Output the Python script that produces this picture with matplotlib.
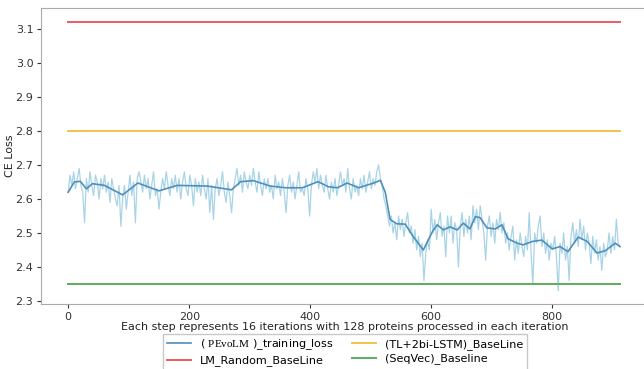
import numpy as np
import matplotlib
matplotlib.use("Agg")
import matplotlib.pyplot as plt

# ---------------------------------------------------------------------------
# data
# ---------------------------------------------------------------------------
STEP = 3   # raw loss sampled every 3 steps (0 .. 912)
raw_loss = [
    2.62, 2.67, 2.64, 2.68, 2.63, 2.66, 2.69, 2.64, 2.62, 2.53,
    2.66, 2.62, 2.68, 2.64, 2.61, 2.67, 2.65, 2.60, 2.66, 2.63,
    2.67, 2.62, 2.65, 2.59, 2.66, 2.63, 2.60, 2.58, 2.64, 2.52,
    2.60, 2.64, 2.57, 2.62, 2.67, 2.61, 2.65, 2.53, 2.66, 2.68,
    2.65, 2.62, 2.67, 2.63, 2.66, 2.60, 2.64, 2.68, 2.61, 2.63,
    2.57, 2.62, 2.66, 2.63, 2.68, 2.64, 2.61, 2.66, 2.63, 2.67,
    2.62, 2.66, 2.60, 2.65, 2.68, 2.63, 2.61, 2.67, 2.64, 2.58,
    2.66, 2.62, 2.65, 2.61, 2.67, 2.63, 2.60, 2.66, 2.56, 2.64,
    2.54, 2.63, 2.66, 2.61, 2.64, 2.68, 2.62, 2.59, 2.65, 2.61,
    2.56, 2.63, 2.66, 2.69, 2.64, 2.67, 2.62, 2.68, 2.65, 2.63,
    2.67, 2.64, 2.69, 2.65, 2.62, 2.68, 2.64, 2.61, 2.66, 2.63,
    2.66, 2.62, 2.64, 2.60, 2.67, 2.63, 2.65, 2.61, 2.66, 2.62,
    2.56, 2.64, 2.67, 2.62, 2.65, 2.60, 2.64, 2.68, 2.62, 2.63,
    2.61, 2.66, 2.63, 2.55, 2.64, 2.68, 2.65, 2.69, 2.63, 2.67,
    2.64, 2.62, 2.67, 2.63, 2.60, 2.65, 2.62, 2.66, 2.61, 2.64,
    2.68, 2.64, 2.66, 2.62, 2.69, 2.63, 2.60, 2.66, 2.62, 2.64,
    2.61, 2.66, 2.63, 2.67, 2.62, 2.65, 2.68, 2.63, 2.66, 2.64,
    2.68, 2.70, 2.66, 2.64, 2.60, 2.58, 2.55, 2.52, 2.55, 2.50,
    2.53, 2.48, 2.55, 2.51, 2.54, 2.49, 2.53, 2.56, 2.50, 2.52,
    2.47, 2.51, 2.45, 2.49, 2.43, 2.47, 2.36, 2.44, 2.48, 2.45,
    2.57, 2.50, 2.54, 2.48, 2.53, 2.56, 2.49, 2.52, 2.43, 2.55,
    2.50, 2.55, 2.47, 2.53, 2.51, 2.40, 2.52, 2.56, 2.49, 2.54,
    2.50, 2.55, 2.48, 2.58, 2.53, 2.57, 2.51, 2.58, 2.54, 2.50,
    2.42, 2.52, 2.55, 2.49, 2.53, 2.47, 2.54, 2.51, 2.56, 2.50,
    2.53, 2.47, 2.50, 2.45, 2.49, 2.52, 2.42, 2.48, 2.44, 2.50,
    2.46, 2.43, 2.49, 2.45, 2.56, 2.44, 2.35, 2.50, 2.47, 2.52,
    2.55, 2.46, 2.50, 2.44, 2.48, 2.42, 2.47, 2.45, 2.49, 2.43,
    2.33, 2.47, 2.44, 2.50, 2.42, 2.46, 2.36, 2.49, 2.53, 2.47,
    2.51, 2.46, 2.54, 2.48, 2.52, 2.45, 2.50, 2.47, 2.41, 2.49,
    2.44, 2.48, 2.42, 2.46, 2.39, 2.47, 2.43, 2.45, 2.50, 2.44,
    2.49, 2.45, 2.54, 2.47, 2.46,
]

# smoothed loss (dark blue curve), read at its turning points
smooth_steps = [0, 10, 20, 30, 40, 60, 90, 115, 150, 180, 230, 270, 285, 306,
                334, 360, 387, 413, 430, 445, 461, 480, 505, 516, 524, 532,
                543, 557, 570, 587, 602, 610, 620, 631, 643, 653, 664, 673,
                681, 692, 706, 717, 727, 742, 752, 767, 783, 800, 813, 826,
                843, 858, 874, 888, 904, 912]
smooth_loss = [2.62, 2.65, 2.652, 2.63, 2.645, 2.64, 2.612, 2.647, 2.624, 2.64,
               2.638, 2.627, 2.651, 2.654, 2.638, 2.633, 2.633, 2.651, 2.636,
               2.633, 2.647, 2.633, 2.647, 2.655, 2.62, 2.54, 2.527, 2.526,
               2.49, 2.45, 2.504, 2.524, 2.509, 2.518, 2.509, 2.529, 2.512,
               2.548, 2.545, 2.515, 2.512, 2.524, 2.483, 2.47, 2.465, 2.475,
               2.479, 2.453, 2.46, 2.445, 2.488, 2.475, 2.441, 2.448, 2.47, 2.46]

LM_RANDOM = 3.12
TL_LSTM = 2.80
SEQVEC = 2.35
LAST_STEP = 912

plt.rcParams["mathtext.fontset"] = "custom"
plt.rcParams["mathtext.rm"] = "Liberation Serif"

fig = plt.figure(figsize=(6.44, 3.69), dpi=100)
ax = fig.add_axes([41 / 644, 65 / 369, 608 / 644, 296 / 369])

steps = np.arange(len(raw_loss)) * STEP
ax.plot(steps, raw_loss, color="#9fcfe4", lw=0.9, alpha=0.9)
ax.plot(smooth_steps, smooth_loss, color="#4f8fba", lw=1.2,
        label=r"( $\mathrm{PEvoLM}$ )_training_loss")
ax.plot([0, LAST_STEP], [LM_RANDOM] * 2, color="#ec5b5f", lw=1.4,
        label="LM_Random_BaseLine")
ax.plot([0, LAST_STEP], [TL_LSTM] * 2, color="#f4c14d", lw=1.4,
        label="(TL+2bi-LSTM)_BaseLine")
ax.plot([0, LAST_STEP], [SEQVEC] * 2, color="#5aad5a", lw=1.4,
        label="(SeqVec)_Baseline")

ax.set_xlim(-45, 960)
ax.set_ylim(2.291, 3.162)
ax.set_xticks([0, 200, 400, 600, 800])
ax.set_yticks([2.3, 2.4, 2.5, 2.6, 2.7, 2.8, 2.9, 3.0, 3.1])
ax.tick_params(labelsize=8, colors="#333333", length=3, pad=2.5)
for s in ax.spines.values():
    s.set_color("#aaaaaa")

ax.set_xlabel("Each step represents 16 iterations with 128 proteins processed in each iteration",
              fontsize=8, labelpad=0, color="#222222")
ax.set_ylabel("CE Loss", fontsize=8, color="#222222")
ax.yaxis.set_label_coords(-26 / 608, 0.5)

fig.legend(ncol=2, loc="upper center", bbox_to_anchor=(345 / 644, 1 - 334 / 369),
           fontsize=8, frameon=True, fancybox=False, edgecolor="#bbbbbb",
           handlelength=2.2, handletextpad=0.8, columnspacing=1.6,
           labelspacing=0.3, borderpad=0.3, borderaxespad=0)

fig.savefig("out.png", dpi=100)
